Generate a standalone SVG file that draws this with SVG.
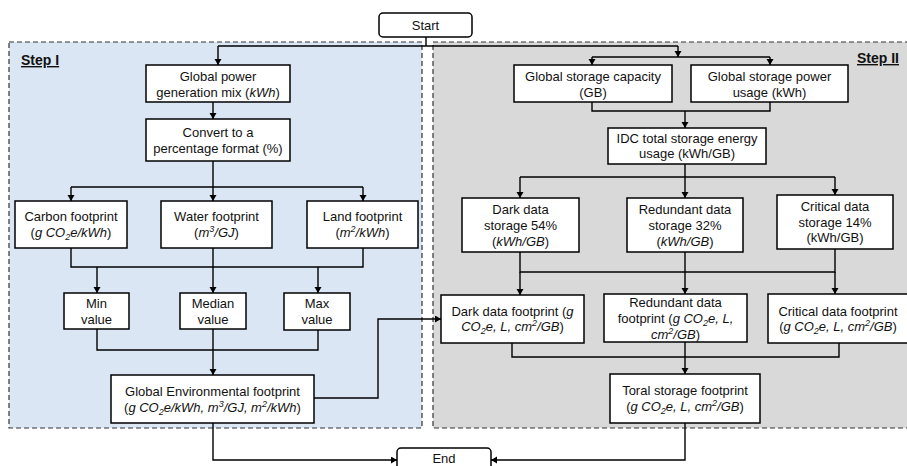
<svg xmlns="http://www.w3.org/2000/svg" width="907" height="466" viewBox="0 0 907 466">
  <defs>
    <style>
      .panel { stroke: #333; stroke-width: 1.2; stroke-dasharray: 5 3; }
      .box { fill: #fff; stroke: #000; stroke-width: 1.5; }
      .t { font-family: "Liberation Sans", Arial, sans-serif; font-size: 13px; fill: #111; text-anchor: middle; }
      .step { font-family: "Liberation Sans", Arial, sans-serif; font-size: 14px; font-weight: bold; fill: #111; text-decoration: underline; }
      .i { font-style: italic; }
      .sub { font-size: 9px; }
      .wire { fill: none; stroke: #000; stroke-width: 1.4; }
      .arrow { fill: none; stroke: #000; stroke-width: 1.4; marker-end: url(#head); }
    </style>
    <marker id="head" markerUnits="userSpaceOnUse" markerWidth="8" markerHeight="8" refX="6" refY="3.5" orient="auto">
      <path d="M0,0 L6,3.5 L0,7 Z" fill="#000"/>
    </marker>
  </defs>

  <rect width="907" height="466" fill="#fff"/>

  <!-- stage panels -->
  <g id="panel-step1">
    <rect class="panel" x="9" y="42" width="413" height="386" fill="#dbe6f4"/>
    <text class="step" x="21" y="65">Step I</text>
  </g>
  <g id="panel-step2">
    <rect class="panel" x="433" y="42" width="490" height="386" fill="#d9d9d9"/>
    <text class="step" x="857" y="63">Step II</text>
  </g>

  <!-- connectors -->
  <g id="connectors">
    <path class="wire" d="M426,37 V46 M218,46 H678"/>
    <path class="arrow" d="M218,46 V65"/>
    <path class="arrow" d="M678,46 V57"/>
    <path class="wire" d="M592,57 H770"/>
    <path class="arrow" d="M592,57 V65"/>
    <path class="arrow" d="M770,57 V65"/>

    <path class="arrow" d="M213,102 V119"/>
    <path class="wire" d="M213,161 V187 M71,187 H363"/>
    <path class="arrow" d="M71,187 V201"/>
    <path class="arrow" d="M213,187 V201"/>
    <path class="arrow" d="M363,187 V201"/>

    <path class="wire" d="M71,248 V267 H363 V248"/>
    <path class="arrow" d="M213,248 V293"/>
    <path class="arrow" d="M97,267 V293"/>
    <path class="arrow" d="M318,267 V293"/>

    <path class="wire" d="M97,329 V350 H318 V330"/>
    <path class="arrow" d="M213,329 V375"/>

    <path class="arrow" d="M314,398 H378 V319 H441"/>
    <path class="arrow" d="M213,423 V460 H397"/>

    <path class="wire" d="M592,102 V111 H770 V102"/>
    <path class="arrow" d="M685,111 V128"/>

    <path class="wire" d="M685,164 V177 M520,177 H835"/>
    <path class="arrow" d="M520,177 V198"/>
    <path class="arrow" d="M685,177 V198"/>
    <path class="arrow" d="M835,177 V195"/>

    <path class="wire" d="M520,252 V272 H835 V249"/>
    <path class="arrow" d="M520,272 V295"/>
    <path class="arrow" d="M685,252 V294"/>
    <path class="arrow" d="M835,272 V294"/>

    <path class="wire" d="M512,343 V357 H839 V343"/>
    <path class="arrow" d="M685,342 V374"/>

    <path class="arrow" d="M685,423 V460 H491"/>
  </g>

  <!-- terminals -->
  <g id="start">
    <rect class="box" x="379" y="13" width="93" height="24" rx="4"/>
    <text class="t" x="425.5" y="30">Start</text>
  </g>
  <g id="end">
    <rect class="box" x="397" y="448" width="94" height="26" rx="4"/>
    <text class="t" x="444" y="463">End</text>
  </g>

  <!-- Step I nodes -->
  <g id="power-mix">
    <rect class="box" x="146" y="65" width="144" height="37"/>
    <text class="t" x="218" y="81">Global power</text>
    <text class="t" x="218" y="97">generation mix (<tspan class="i">kWh</tspan>)</text>
  </g>
  <g id="convert">
    <rect class="box" x="146" y="119" width="144" height="42"/>
    <text class="t" x="218" y="136.5">Convert to a</text>
    <text class="t" x="218" y="152.5">percentage format (%)</text>
  </g>
  <g id="carbon">
    <rect class="box" x="15" y="201" width="112" height="47"/>
    <text class="t" x="71" y="221">Carbon footprint</text>
    <text class="t" x="71" y="237">(<tspan class="i">g CO<tspan class="sub" dy="3">2</tspan><tspan dy="-3">e/kWh</tspan></tspan>)</text>
  </g>
  <g id="water">
    <rect class="box" x="161" y="201" width="111" height="47"/>
    <text class="t" x="216.5" y="221">Water footprint</text>
    <text class="t" x="216.5" y="237">(<tspan class="i">m<tspan class="sub" dy="-5">3</tspan><tspan dy="5">/GJ</tspan></tspan>)</text>
  </g>
  <g id="land">
    <rect class="box" x="307" y="201" width="111" height="47"/>
    <text class="t" x="362.5" y="221">Land footprint</text>
    <text class="t" x="362.5" y="237">(<tspan class="i">m<tspan class="sub" dy="-5">2</tspan><tspan dy="5">/kWh</tspan></tspan>)</text>
  </g>
  <g id="min">
    <rect class="box" x="64" y="293" width="65" height="36"/>
    <text class="t" x="96.5" y="307.5">Min</text>
    <text class="t" x="96.5" y="323.5">value</text>
  </g>
  <g id="median">
    <rect class="box" x="180" y="293" width="66" height="36"/>
    <text class="t" x="213" y="307.5">Median</text>
    <text class="t" x="213" y="323.5">value</text>
  </g>
  <g id="max">
    <rect class="box" x="284" y="293" width="66" height="37"/>
    <text class="t" x="317" y="308">Max</text>
    <text class="t" x="317" y="324">value</text>
  </g>
  <g id="global-env">
    <rect class="box" x="111" y="375" width="203" height="48"/>
    <text class="t" x="212.5" y="395.5">Global Environmental footprint</text>
    <text class="t" x="212.5" y="411.5">(<tspan class="i">g CO<tspan class="sub" dy="3">2</tspan><tspan dy="-3">e/kWh, m</tspan><tspan class="sub" dy="-5">3</tspan><tspan dy="5">/GJ, m</tspan><tspan class="sub" dy="-5">2</tspan><tspan dy="5">/kWh</tspan></tspan>)</text>
  </g>

  <!-- Step II nodes -->
  <g id="storage-capacity">
    <rect class="box" x="514" y="65" width="158" height="37"/>
    <text class="t" x="593" y="81">Global storage capacity</text>
    <text class="t" x="593" y="97">(GB)</text>
  </g>
  <g id="storage-power">
    <rect class="box" x="691" y="65" width="157" height="37"/>
    <text class="t" x="769.5" y="81">Global storage power</text>
    <text class="t" x="769.5" y="97">usage (kWh)</text>
  </g>
  <g id="idc-energy">
    <rect class="box" x="608" y="128" width="158" height="36"/>
    <text class="t" x="687" y="142.5">IDC total storage energy</text>
    <text class="t" x="687" y="158">usage (kWh/GB)</text>
  </g>
  <g id="dark-storage">
    <rect class="box" x="462" y="198" width="117" height="54"/>
    <text class="t" x="520.5" y="214">Dark data</text>
    <text class="t" x="520.5" y="230">storage 54%</text>
    <text class="t" x="520.5" y="245.5">(<tspan class="i">kWh/GB</tspan>)</text>
  </g>
  <g id="redundant-storage">
    <rect class="box" x="627" y="198" width="116" height="54"/>
    <text class="t" x="685" y="214">Redundant data</text>
    <text class="t" x="685" y="230">storage 32%</text>
    <text class="t" x="685" y="245.5">(<tspan class="i">kWh/GB</tspan>)</text>
  </g>
  <g id="critical-storage">
    <rect class="box" x="777" y="195" width="116" height="54"/>
    <text class="t" x="835" y="211">Critical data</text>
    <text class="t" x="835" y="226.5">storage 14%</text>
    <text class="t" x="835" y="242">(kWh/GB)</text>
  </g>
  <g id="dark-footprint">
    <rect class="box" x="441" y="295" width="143" height="48"/>
    <text class="t" x="512.5" y="316">Dark data footprint (<tspan class="i">g</tspan></text>
    <text class="t" x="512.5" y="331"><tspan class="i">CO<tspan class="sub" dy="3">2</tspan><tspan dy="-3">e, L, cm</tspan><tspan class="sub" dy="-5">2</tspan><tspan dy="5">/GB</tspan></tspan>)</text>
  </g>
  <g id="redundant-footprint">
    <rect class="box" x="604" y="294" width="143" height="48"/>
    <text class="t" x="675.5" y="307">Redundant data</text>
    <text class="t" x="675.5" y="323">footprint (<tspan class="i">g CO<tspan class="sub" dy="3">2</tspan><tspan dy="-3">e, L,</tspan></tspan></text>
    <text class="t" x="675.5" y="338.5"><tspan class="i">cm<tspan class="sub" dy="-5">2</tspan><tspan dy="5">/GB</tspan></tspan>)</text>
  </g>
  <g id="critical-footprint">
    <rect class="box" x="768" y="294" width="141" height="49"/>
    <text class="t" x="838" y="316">Critical data footprint</text>
    <text class="t" x="838" y="331">(<tspan class="i">g CO<tspan class="sub" dy="3">2</tspan><tspan dy="-3">e, L, cm</tspan><tspan class="sub" dy="-5">2</tspan><tspan dy="5">/GB</tspan></tspan>)</text>
  </g>
  <g id="total-footprint">
    <rect class="box" x="610" y="374" width="150" height="49"/>
    <text class="t" x="685" y="394.5">Toral storage footprint</text>
    <text class="t" x="685" y="410.5">(<tspan class="i">g CO<tspan class="sub" dy="3">2</tspan><tspan dy="-3">e, L, cm</tspan><tspan class="sub" dy="-5">2</tspan><tspan dy="5">/GB</tspan></tspan>)</text>
  </g>
</svg>
